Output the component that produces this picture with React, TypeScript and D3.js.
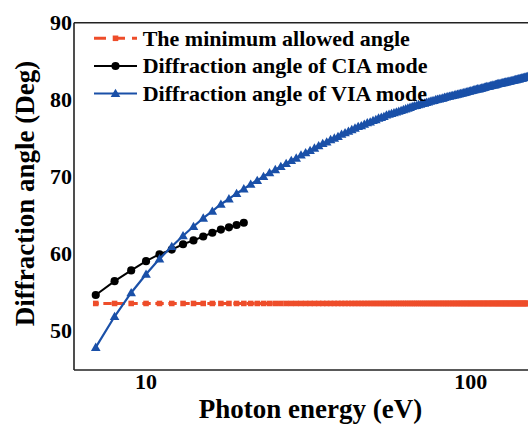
import React from "react";
import * as d3 from "d3";

// ---- data ----
const energies = [
  7, 8, 9, 10, 11, 12, 13, 14, 15, 16, 17, 18, 19, 20, 21, 22, 23, 24, 25, 26,
  27, 28, 29, 30, 31, 32, 33, 34, 35, 36, 37, 38, 39, 40, 41, 42, 43, 44, 45, 46,
  47, 48, 49, 50, 51, 52, 53, 54, 55, 56, 57, 58, 59, 60, 61, 62, 63, 64, 65, 66,
  67, 68, 69, 70, 71, 72, 73, 74, 75, 76, 77, 78, 79, 80, 81, 82, 83, 84, 85, 86,
  87, 88, 89, 90, 91, 92, 93, 94, 95, 96, 97, 98, 99, 100, 101, 102, 103, 104, 105, 106,
  107, 108, 109, 110, 111, 112, 113, 114, 115, 116, 117, 118, 119, 120, 121, 122, 123, 124, 125, 126,
  127, 128, 129, 130, 131, 132, 133, 134, 135, 136, 137, 138, 139, 140, 141, 142, 143, 144, 145, 146,
  147, 148, 149, 150,
];

const minAllowedAngle = [
  53.5, 53.5, 53.5, 53.5, 53.5, 53.5, 53.5, 53.5, 53.5, 53.5, 53.5, 53.5, 53.5, 53.5, 53.5, 53.5, 53.5, 53.5, 53.5, 53.5,
  53.5, 53.5, 53.5, 53.5, 53.5, 53.5, 53.5, 53.5, 53.5, 53.5, 53.5, 53.5, 53.5, 53.5, 53.5, 53.5, 53.5, 53.5, 53.5, 53.5,
  53.5, 53.5, 53.5, 53.5, 53.5, 53.5, 53.5, 53.5, 53.5, 53.5, 53.5, 53.5, 53.5, 53.5, 53.5, 53.5, 53.5, 53.5, 53.5, 53.5,
  53.5, 53.5, 53.5, 53.5, 53.5, 53.5, 53.5, 53.5, 53.5, 53.5, 53.5, 53.5, 53.5, 53.5, 53.5, 53.5, 53.5, 53.5, 53.5, 53.5,
  53.5, 53.5, 53.5, 53.5, 53.5, 53.5, 53.5, 53.5, 53.5, 53.5, 53.5, 53.5, 53.5, 53.5, 53.5, 53.5, 53.5, 53.5, 53.5, 53.5,
  53.5, 53.5, 53.5, 53.5, 53.5, 53.5, 53.5, 53.5, 53.5, 53.5, 53.5, 53.5, 53.5, 53.5, 53.5, 53.5, 53.5, 53.5, 53.5, 53.5,
  53.5, 53.5, 53.5, 53.5, 53.5, 53.5, 53.5, 53.5, 53.5, 53.5, 53.5, 53.5, 53.5, 53.5, 53.5, 53.5, 53.5, 53.5, 53.5, 53.5,
  53.5, 53.5, 53.5, 53.5,
];

const viaAngle = [
  47.8, 51.8, 54.9, 57.3, 59.3, 60.9, 62.3, 63.5, 64.6, 65.5, 66.4, 67.1, 67.8, 68.4, 69.0, 69.5, 70.0, 70.5, 70.9, 71.3,
  71.7, 72.1, 72.4, 72.8, 73.1, 73.4, 73.7, 74.0, 74.3, 74.5, 74.8, 75.0, 75.2, 75.5, 75.7, 75.9, 76.1, 76.3, 76.5, 76.6,
  76.8, 77.0, 77.1, 77.3, 77.4, 77.6, 77.7, 77.8, 78.0, 78.1, 78.2, 78.3, 78.4, 78.5, 78.6, 78.7, 78.8, 78.9, 79.0, 79.1,
  79.2, 79.25, 79.35, 79.4, 79.5, 79.55, 79.65, 79.7, 79.8, 79.85, 79.9, 80.0, 80.05, 80.1, 80.15, 80.2, 80.3, 80.35, 80.4, 80.45,
  80.5, 80.55, 80.6, 80.65, 80.7, 80.75, 80.8, 80.85, 80.9, 80.95, 81.0, 81.05, 81.1, 81.15, 81.2, 81.25, 81.3, 81.35, 81.4, 81.4,
  81.45, 81.5, 81.55, 81.6, 81.65, 81.7, 81.7, 81.75, 81.8, 81.85, 81.9, 81.9, 81.95, 82.0, 82.05, 82.1, 82.1, 82.15, 82.2, 82.2,
  82.25, 82.3, 82.3, 82.35, 82.4, 82.4, 82.45, 82.5, 82.5, 82.55, 82.6, 82.6, 82.65, 82.7, 82.7, 82.75, 82.8, 82.8, 82.85, 82.9,
  82.9, 82.95, 83.0, 83.0,
];

const ciaEnergies = [7, 8, 9, 10, 11, 12, 13, 14, 15, 16, 17, 18, 19, 20];
const ciaAngle = [54.6, 56.4, 57.8, 59.0, 59.9, 60.5, 61.2, 61.7, 62.2, 62.7, 63.1, 63.4, 63.7, 64.0];

const yTicks = [50, 60, 70, 80, 90];
const xTicks = [10, 100];

const legendLabels = [
  "The minimum allowed angle",
  "Diffraction angle of CIA mode",
  "Diffraction angle of VIA mode",
];

const xTitle = "Photon energy (eV)";
const yTitle = "Diffraction angle (Deg)";

// ---- styles ----
const W = 528;
const H = 424;
const FONT = "'Liberation Serif', 'Times New Roman', serif";
const ORANGE = "#ee4d2a";
const BLUE = "#1a50a8";
const BLACK = "#000000";
const AXIS = "#222222";

export default function App() {
  const left = 74;
  const top = 22.7;
  const bottom = 370;

  const x = d3.scaleLog().domain([6, 150]).range([left, 528]);
  const y = d3.scaleLinear().domain([44.85, 90]).range([bottom, top]);

  type P = [number, number];
  const orangePts: P[] = energies.map((e, i) => [e, minAllowedAngle[i]]);
  const bluePts: P[] = energies.map((e, i) => [e, viaAngle[i]]);
  const blackPts: P[] = ciaEnergies.map((e, i) => [e, ciaAngle[i]]);

  const line = d3
    .line<P>()
    .x((d) => x(d[0]))
    .y((d) => y(d[1]));

  const sq = d3.symbol().type(d3.symbolSquare).size(31)();
  const circ = d3.symbol().type(d3.symbolCircle).size(52)();
  const tri = d3.symbol().type(d3.symbolTriangle).size(40)();

  const legendRowY = [38.3, 66, 93.5];
  const legX0 = 94;
  const legX1 = 137;
  const legMid = (legX0 + legX1) / 2;

  return (
    <div style={{ position: "absolute", left: 0, top: 0 }}>
      <svg width={W} height={H} style={{ display: "block", background: "#fff" }}>
        <rect x={0} y={0} width={W} height={H} fill="#fff" />

        {/* orange series */}
        <path
          d={line(orangePts) || ""}
          fill="none"
          stroke={ORANGE}
          strokeWidth={3}
          strokeDasharray="8.4,4.6"
          strokeDashoffset={5.4}
        />
        {orangePts.map((d, i) => (
          <path key={"o" + i} d={sq} transform={`translate(${x(d[0])},${y(d[1])})`} fill={ORANGE} />
        ))}

        {/* black series */}
        <path d={line(blackPts) || ""} fill="none" stroke={BLACK} strokeWidth={2} />
        {blackPts.map((d, i) => (
          <path key={"b" + i} d={circ} transform={`translate(${x(d[0])},${y(d[1])})`} fill={BLACK} />
        ))}

        {/* blue series */}
        <path d={line(bluePts) || ""} fill="none" stroke={BLUE} strokeWidth={2.2} />
        {bluePts.map((d, i) => (
          <path key={"v" + i} d={tri} transform={`translate(${x(d[0])},${y(d[1]) + 0.8})`} fill={BLUE} />
        ))}

        {/* axes frame */}
        <line x1={left} y1={top} x2={W} y2={top} stroke={AXIS} strokeWidth={1.6} />
        <line x1={left} y1={top} x2={left} y2={bottom} stroke={AXIS} strokeWidth={1.6} />
        <line x1={left} y1={bottom} x2={W} y2={bottom} stroke={AXIS} strokeWidth={1.6} />

        {/* y tick labels */}
        {yTicks.map((t) => (
          <text
            key={"yt" + t}
            x={72}
            y={y(t)}
            dy="0.34em"
            textAnchor="end"
            fontFamily={FONT}
            fontWeight="bold"
            fontSize={22}
            fill="#000"
          >
            {t}
          </text>
        ))}

        {/* x tick labels */}
        {xTicks.map((t) => (
          <text
            key={"xt" + t}
            x={x(t)}
            y={389}
            textAnchor="middle"
            fontFamily={FONT}
            fontWeight="bold"
            fontSize={22}
            fill="#000"
          >
            {t}
          </text>
        ))}

        {/* axis titles */}
        <text
          x={310.5}
          y={418}
          textAnchor="middle"
          fontFamily={FONT}
          fontWeight="bold"
          fontSize={27}
          fill="#000"
        >
          {xTitle}
        </text>
        <text
          transform={`translate(33.5,193.5) rotate(-90)`}
          textAnchor="middle"
          fontFamily={FONT}
          fontWeight="bold"
          fontSize={27}
          fill="#000"
        >
          {yTitle}
        </text>

        {/* legend */}
        <g>
          <line x1={legX0} y1={legendRowY[0]} x2={legX1} y2={legendRowY[0]} stroke={ORANGE} strokeWidth={3} strokeDasharray="12,7" />
          <path d={sq} transform={`translate(${legMid},${legendRowY[0]})`} fill={ORANGE} />
          <line x1={legX0} y1={legendRowY[1]} x2={legX1} y2={legendRowY[1]} stroke={BLACK} strokeWidth={2} />
          <path d={circ} transform={`translate(${legMid},${legendRowY[1]})`} fill={BLACK} />
          <line x1={legX0} y1={legendRowY[2]} x2={legX1} y2={legendRowY[2]} stroke={BLUE} strokeWidth={2} />
          <path d={tri} transform={`translate(${legMid},${legendRowY[2] + 0.8})`} fill={BLUE} />
          {legendLabels.map((l, i) => (
            <text
              key={"lg" + i}
              x={142.7}
              y={legendRowY[i]}
              dy="0.34em"
              fontFamily={FONT}
              fontWeight="bold"
              fontSize={22}
              fill="#000"
            >
              {l}
            </text>
          ))}
        </g>
      </svg>
    </div>
  );
}
